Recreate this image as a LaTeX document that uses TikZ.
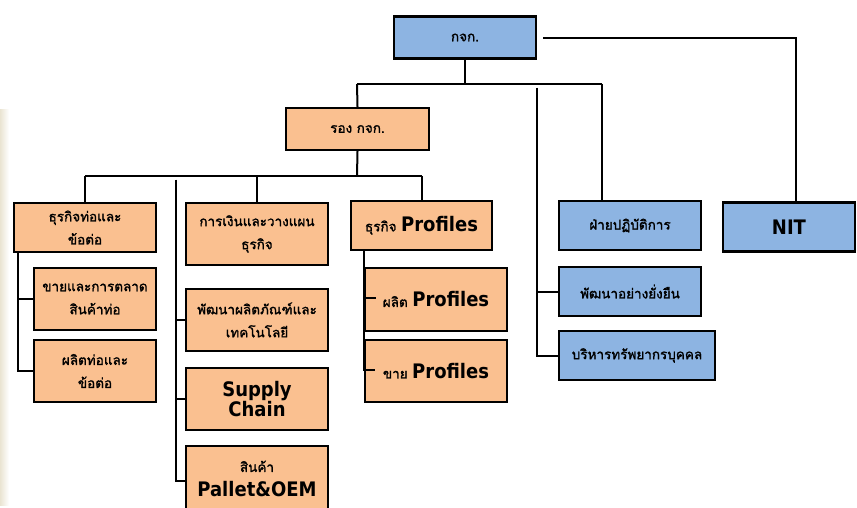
\documentclass[tikz,border=0pt]{standalone}
\usepackage{fontspec}
\newfontfamily\thaifont[Script=Thai, FakeBold=1.4]{Loma}
\newfontfamily\latinbold{DejaVu Sans Condensed}
\usetikzlibrary{calc}
\definecolor{orgfill}{HTML}{FAC090}
\definecolor{bluefill}{HTML}{8DB4E2}
\definecolor{edgehaze}{HTML}{EAE4D2}
\newcommand{\en}[1]{{\latinbold\bfseries\fontsize{20}{20}\selectfont #1}}
\tikzset{
  unit/.style={draw=black, line width=2.4pt, inner sep=0pt, align=center,
    font=\thaifont\fontsize{13.5}{23}\selectfont},
  orgbox/.style={unit, fill=orgfill},
  bluebox/.style={unit, fill=bluefill},
  link/.style={draw=black, line width=2pt},
}
\begin{document}
\begin{tikzpicture}[x=1pt,y=-1pt]
\useasboundingbox (0,0) rectangle (857,508);
\fill[white] (0,0) rectangle (857,508);
% soft beige band along the left edge
\shade[left color=edgehaze, right color=white] (0,110) rectangle (9,505);

% top level
\node[bluebox, minimum width=142pt, minimum height=42pt] (ceo) at (465,37.5) {กจก.};
\node[orgbox, minimum width=143pt, minimum height=42pt] (vp) at (357.5,129) {รอง กจก.};

% pipe business
\node[orgbox, minimum width=142pt, minimum height=49pt] (pipe) at (85,227.5) {ธุรกิจท่อและ\\ข้อต่อ};
\node[orgbox, minimum width=122pt, minimum height=62pt] (pipesale) at (95,299) {ขายและการตลาด\\สินค้าท่อ};
\node[orgbox, minimum width=122pt, minimum height=62pt] (pipemake) at (95,371) {ผลิตท่อและ\\ข้อต่อ};

% support column
\node[orgbox, minimum width=142pt, minimum height=62pt] (fin) at (257,234) {การเงินและวางแผน\\ธุรกิจ};
\node[orgbox, minimum width=142pt, minimum height=62pt] (rnd) at (257,320) {พัฒนาผลิตภัณฑ์และ\\เทคโนโลยี};
\node[orgbox, minimum width=142pt, minimum height=62pt,
  font=\latinbold\bfseries\fontsize{20}{20}\selectfont] (supply) at (257,399) {Supply\\Chain};
\node[orgbox, minimum width=142pt, minimum height=66pt,
  font=\thaifont\fontsize{13.5}{25}\selectfont] (pallet) at (257,479) {สินค้า\\\en{Pallet\&OEM}};

% profiles business
\node[orgbox, minimum width=141pt, minimum height=49pt] (prof) at (421.5,225.5) {ธุรกิจ \en{Profiles}};
\node[orgbox, minimum width=142pt, minimum height=63pt] (profmake) at (436,299.5) {ผลิต \en{Profiles}};
\node[orgbox, minimum width=142pt, minimum height=62pt] (profsale) at (436,371) {ขาย \en{Profiles}};

% staff units
\node[bluebox, minimum width=142pt, minimum height=49pt] (ops) at (630,225.5) {ฝ่ายปฏิบัติการ};
\node[bluebox, minimum width=142pt, minimum height=49pt] (sust) at (630,291.5) {พัฒนาอย่างยั่งยืน};
\node[bluebox, minimum width=156pt, minimum height=49pt] (hr) at (637,355.5) {บริหารทรัพยากรบุคคล};
\node[bluebox, minimum width=132pt, minimum height=49pt,
  font=\latinbold\bfseries\fontsize{20}{20}\selectfont] (nit) at (789,227) {NIT};

% junction points
\coordinate (ceoBus) at (465,84);
\coordinate (busL) at (357,84);
\coordinate (busR) at (602,84);
\coordinate (staffTop) at (537,88);
\coordinate (nitStart) at (543,38);
\coordinate (vpBus) at (357,176);
\coordinate (vpBusL) at (85,176);
\coordinate (vpBusR) at (422,176);
\coordinate (midTop) at (176,180);
\coordinate (pipeTop) at (18,253);
\coordinate (profTop) at (364,251);
\coordinate (profDash1) at (376,298);
\coordinate (profDash2) at (375,370);

% connectors from the top
\draw[link] (ceo.south) -- (ceoBus);
\draw[link] (busL) -- (busR);
\draw[link] (busL) -- (vp.north);
\draw[link] (busR) -- (busR |- ops.north);
\draw[link] (staffTop) |- (sust.west);
\draw[link] (staffTop) |- (hr.west);
\draw[link] (nitStart) -| ([xshift=7pt]nit.north);

% connectors under the deputy
\draw[link] (vp.south) -- (vpBus);
\draw[link] (vpBusL) -- (vpBusR);
\draw[link] (vpBusL) -- (pipe.north);
\draw[link] (vpBus -| fin.north) -- (fin.north);
\draw[link] (vpBusR) -- (prof.north -| vpBusR);
\draw[link] (midTop) |- (rnd.west);
\draw[link] (midTop) |- (supply.west);
\draw[link] (midTop) |- ([yshift=-2pt]pallet.west);

% pipe sub-units
\draw[line width=1.6pt] (pipeTop) |- (pipesale.west);
\draw[line width=1.6pt] (pipeTop) |- (pipemake.west);

% profiles sub-units
\draw[line width=1.6pt] (profTop) |- (profDash2);
\draw[line width=1.6pt] (profTop |- profDash1) -- (profDash1);
\end{tikzpicture}
\end{document}
